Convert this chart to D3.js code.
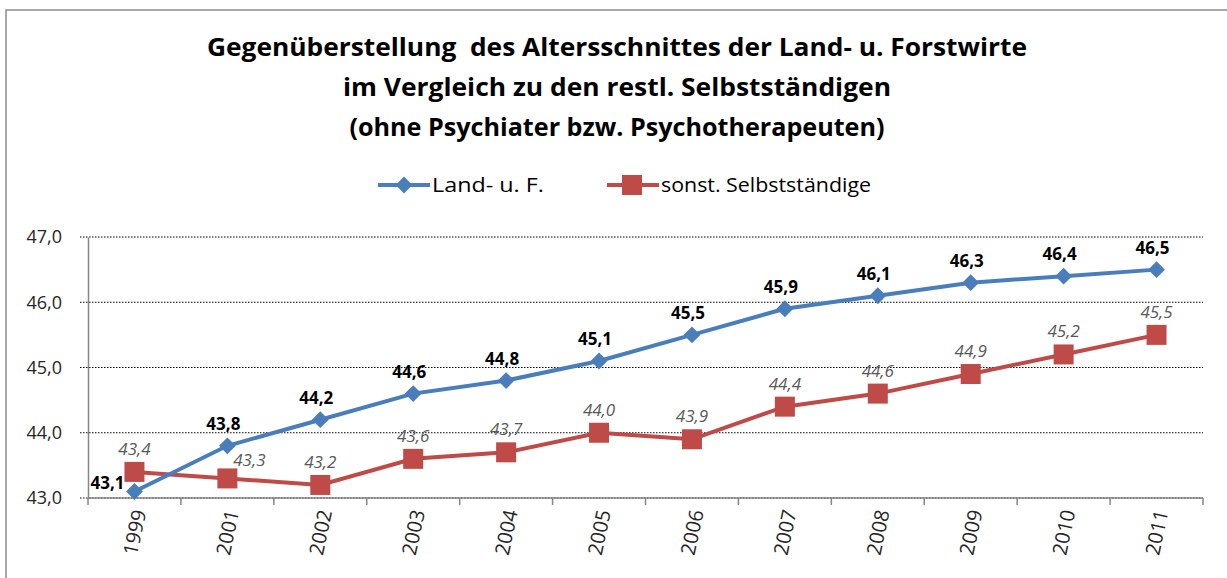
<!DOCTYPE html>
<html>
<head>
<meta charset="utf-8">
<script src="https://cdn.jsdelivr.net/npm/d3@7/dist/d3.min.js"></script>
<style>
  body { margin: 0; background: #fff; }
  svg text { font-family: "Open Sans", sans-serif; }
</style>
</head>
<body>
<script>
// data
var years = ["1999", "2001", "2002", "2003", "2004", "2005", "2006", "2007", "2008", "2009", "2010", "2011"];
var landForst = [43.1, 43.8, 44.2, 44.6, 44.8, 45.1, 45.5, 45.9, 46.1, 46.3, 46.4, 46.5];
var sonstige = [43.4, 43.3, 43.2, 43.6, 43.7, 44.0, 43.9, 44.4, 44.6, 44.9, 45.2, 45.5];
var yTicks = [43, 44, 45, 46, 47];
var seriesNames = ["Land- u. F.", "sonst. Selbstständige"];
var titleLines = [
    "Gegenüberstellung  des Altersschnittes der Land- u. Forstwirte",
    "im Vergleich zu den restl. Selbstständigen",
    "(ohne Psychiater bzw. Psychotherapeuten)"
];

var width = 1227, height = 578;
var margin = {top: 237, bottom: 80, left: 88, right: 24};
var blue = "#4A7EBB", red = "#BE4B48";
var fmt = function(v) { return d3.format(".1f")(v).replace(".", ","); };

var svg = d3.select("body")
    .append("svg")
    .attr("width", width)
    .attr("height", height);

// chart border
svg.append("rect")
    .attr("x", 6).attr("y", 10)
    .attr("width", width + 10).attr("height", height)
    .attr("fill", "none")
    .attr("stroke", "#8c8c8c")
    .attr("stroke-width", 1.5);

var xScale = d3.scaleBand()
    .domain(years)
    .range([margin.left, width - margin.right])
    .padding(0);

var yScale = d3.scaleLinear()
    .domain([43, 47])
    .range([height - margin.bottom, margin.top]);

var xc = function(d) { return xScale(d) + xScale.bandwidth() / 2; };

// title
var titleW = [820, 548, 535];
svg.selectAll("text.title")
    .data(titleLines)
    .enter()
    .append("text")
    .attr("class", "title")
    .attr("x", 617)
    .attr("y", function(d, i) { return 56 + i * 40; })
    .attr("text-anchor", "middle")
    .attr("textLength", function(d, i) { return titleW[i]; })
    .attr("lengthAdjust", "spacingAndGlyphs")
    .style("font-size", "25px")
    .style("font-weight", "bold")
    .style("white-space", "pre")
    .attr("fill", "#000")
    .text(function(d) { return d; });

// gridlines
svg.selectAll("line.grid")
    .data(yTicks)
    .enter()
    .append("line")
    .attr("class", "grid")
    .attr("x1", margin.left - 8)
    .attr("x2", width - margin.right)
    .attr("y1", function(d) { return yScale(d); })
    .attr("y2", function(d) { return yScale(d); })
    .attr("stroke", "#000")
    .attr("stroke-width", 1)
    .attr("stroke-dasharray", "1.5,1.5");

// y axis
var yAxis = d3.axisLeft(yScale)
    .tickValues(yTicks)
    .tickSize(0)
    .tickPadding(26)
    .tickFormat(fmt);

var gy = svg.append("g")
    .attr("transform", "translate(" + margin.left + ",0)")
    .call(yAxis);
gy.select(".domain").attr("stroke", "#868686").attr("stroke-width", 1.5);
gy.selectAll("text").style("font-size", "18px").attr("fill", "#262626");

// x axis
var gx = svg.append("g")
    .attr("transform", "translate(0," + yScale(43) + ")");
gx.append("line")
    .attr("x1", margin.left).attr("x2", width - margin.right)
    .attr("stroke", "#868686").attr("stroke-width", 1.5);
gx.selectAll("line.tick")
    .data(years.concat(["end"]))
    .enter()
    .append("line")
    .attr("class", "tick")
    .attr("x1", function(d, i) { return i < years.length ? xScale(d) : xScale(years[years.length - 1]) + xScale.bandwidth(); })
    .attr("x2", function(d, i) { return i < years.length ? xScale(d) : xScale(years[years.length - 1]) + xScale.bandwidth(); })
    .attr("y1", 0).attr("y2", 7)
    .attr("stroke", "#868686").attr("stroke-width", 1.5);
gx.selectAll("text")
    .data(years)
    .enter()
    .append("text")
    .attr("transform", function(d) { return "translate(" + (xc(d) + 5) + ",12) rotate(-78)"; })
    .attr("text-anchor", "end")
    .attr("dy", "0.35em")
    .style("font-size", "20px")
    .attr("fill", "#262626")
    .text(function(d) { return d; });

// lines
var line = function(vals) {
    return d3.line()
        .x(function(d, i) { return xc(years[i]); })
        .y(function(d) { return yScale(d); })(vals);
};

svg.append("path")
    .attr("d", line(sonstige))
    .attr("fill", "none").attr("stroke", red).attr("stroke-width", 4);
svg.append("path")
    .attr("d", line(landForst))
    .attr("fill", "none").attr("stroke", blue).attr("stroke-width", 4);

var diamond = d3.symbol().type(d3.symbolDiamond2).size(180);

svg.selectAll("rect.sq")
    .data(sonstige)
    .enter()
    .append("rect")
    .attr("class", "sq")
    .attr("x", function(d, i) { return xc(years[i]) - 10; })
    .attr("y", function(d) { return yScale(d) - 10; })
    .attr("width", 20).attr("height", 20)
    .attr("fill", red);

svg.selectAll("path.dia")
    .data(landForst)
    .enter()
    .append("path")
    .attr("class", "dia")
    .attr("d", diamond)
    .attr("transform", function(d, i) { return "translate(" + xc(years[i]) + "," + yScale(d) + ")"; })
    .attr("fill", blue);

// data labels
svg.selectAll("text.lblB")
    .data(landForst)
    .enter()
    .append("text")
    .attr("class", "lblB")
    .attr("x", function(d, i) { return i === 0 ? xc(years[i]) - 10 : xc(years[i]) - 4; })
    .attr("y", function(d, i) { return i === 0 ? yScale(d) - 2 : yScale(d) - 16; })
    .attr("text-anchor", function(d, i) { return i === 0 ? "end" : "middle"; })
    .style("font-size", "17px")
    .style("font-weight", "bold")
    .attr("fill", "#000")
    .text(fmt);

svg.selectAll("text.lblR")
    .data(sonstige)
    .enter()
    .append("text")
    .attr("class", "lblR")
    .attr("x", function(d, i) { return i === 1 ? xc(years[i]) + 22 : xc(years[i]); })
    .attr("y", function(d, i) { return i === 1 ? yScale(d) - 12 : yScale(d) - 17; })
    .attr("text-anchor", "middle")
    .style("font-size", "17px")
    .style("font-style", "italic")
    .attr("fill", "#595959")
    .text(fmt);

// legend
var legend = svg.append("g").attr("transform", "translate(0,185)");
var lx = [378, 607];
var lw = [112, 210];
var lcol = [blue, red];
legend.selectAll("line")
    .data(seriesNames)
    .enter()
    .append("line")
    .attr("x1", function(d, i) { return lx[i]; })
    .attr("x2", function(d, i) { return lx[i] + 52; })
    .attr("stroke", function(d, i) { return lcol[i]; })
    .attr("stroke-width", 4);
legend.append("path")
    .attr("d", diamond)
    .attr("transform", "translate(" + (lx[0] + 26) + ",0)")
    .attr("fill", blue);
legend.append("rect")
    .attr("x", lx[1] + 15).attr("y", -10)
    .attr("width", 20).attr("height", 20)
    .attr("fill", red);
legend.selectAll("text")
    .data(seriesNames)
    .enter()
    .append("text")
    .attr("x", function(d, i) { return lx[i] + 54; })
    .attr("dy", "0.35em")
    .attr("textLength", function(d, i) { return lw[i]; })
    .attr("lengthAdjust", "spacingAndGlyphs")
    .style("font-size", "20px")
    .attr("fill", "#000")
    .text(function(d) { return d; });
</script>
</body>
</html>
